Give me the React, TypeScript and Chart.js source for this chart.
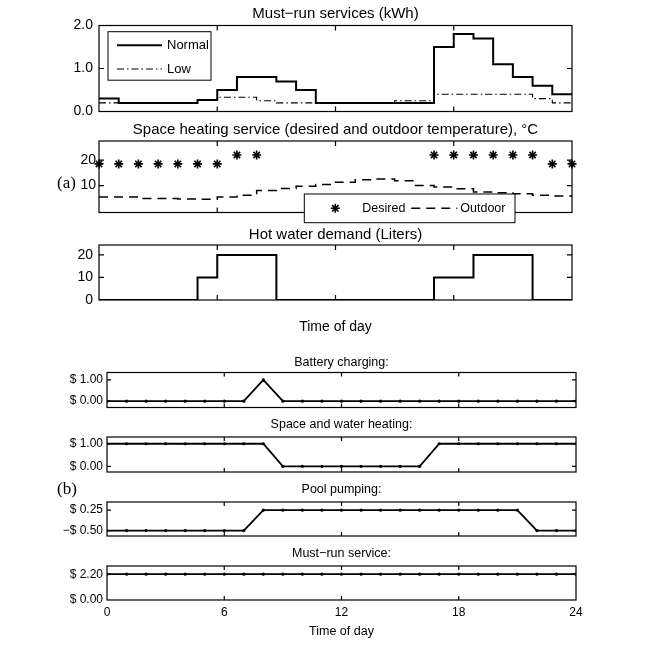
import React, { useEffect, useRef } from "react";
import { Chart, registerables } from "chart.js";

Chart.register(...registerables);
Chart.defaults.color = "#000";

const SANS = "'Liberation Sans', Arial, Helvetica, sans-serif";
const SERIF = "'Liberation Serif', 'Times New Roman', Times, serif";

// ---------------- data ----------------
const hourStarts = [0, 1, 2, 3, 4, 5, 6, 7, 8, 9, 10, 11, 12, 13, 14, 15, 16, 17, 18, 19, 20, 21, 22, 23];
const hourPoints = [0, 1, 2, 3, 4, 5, 6, 7, 8, 9, 10, 11, 12, 13, 14, 15, 16, 17, 18, 19, 20, 21, 22, 23, 24];
const xTickValues = [0, 6, 12, 18, 24];
const xTickLabels = ["0", "6", "12", "18", "24"];

// (a) must-run services, kWh per hour
const mustRunNormal = [0.3, 0.2, 0.2, 0.2, 0.2, 0.27, 0.5, 0.8, 0.8, 0.7, 0.5, 0.2, 0.2, 0.2, 0.2, 0.2, 0.2, 1.5, 1.8, 1.7, 1.1, 0.8, 0.6, 0.4];
const mustRunLow = [0.2, 0.2, 0.2, 0.2, 0.2, 0.27, 0.33, 0.33, 0.25, 0.2, 0.2, 0.2, 0.2, 0.2, 0.2, 0.25, 0.25, 0.4, 0.4, 0.4, 0.4, 0.4, 0.3, 0.2];
const mustRunTicks = [0, 1, 2];
const mustRunTickLabels = ["0.0", "1.0", "2.0"];

// (a) space heating, deg C
const desiredHours = [0, 1, 2, 3, 4, 5, 6, 7, 8, 17, 18, 19, 20, 21, 22, 23, 24];
const desiredTemp = [18.5, 18.5, 18.5, 18.5, 18.5, 18.5, 18.5, 22, 22, 22, 22, 22, 22, 22, 22, 18.5, 18.5];
const outdoorTemp = [5.5, 5.5, 4.9, 4.9, 4.7, 4.6, 5.5, 6.2, 8.0, 8.8, 9.7, 10.4, 11.3, 12.3, 12.6, 11.9, 10.0, 9.4, 8.7, 7.5, 7.2, 6.8, 6.2, 5.9];
const tempTicks = [10, 20];
const tempTickLabels = ["10", "20"];

// (a) hot water demand, liters
const hotWater = [0, 0, 0, 0, 0, 10, 20, 20, 20, 0, 0, 0, 0, 0, 0, 0, 0, 10, 10, 20, 20, 20, 0, 0];
const hotWaterTicks = [0, 10, 20];
const hotWaterTickLabels = ["0", "10", "20"];

// (b) prices per hour point
const batteryPrice = [0, 0, 0, 0, 0, 0, 0, 0, 1, 0, 0, 0, 0, 0, 0, 0, 0, 0, 0, 0, 0, 0, 0, 0, 0];
const heatingPrice = [1, 1, 1, 1, 1, 1, 1, 1, 1, 0, 0, 0, 0, 0, 0, 0, 0, 1, 1, 1, 1, 1, 1, 1, 1];
const poolPrice = [-0.5, -0.5, -0.5, -0.5, -0.5, -0.5, -0.5, -0.5, 0.25, 0.25, 0.25, 0.25, 0.25, 0.25, 0.25, 0.25, 0.25, 0.25, 0.25, 0.25, 0.25, 0.25, -0.5, -0.5, -0.5];
const mustRunPrice = [2.2, 2.2, 2.2, 2.2, 2.2, 2.2, 2.2, 2.2, 2.2, 2.2, 2.2, 2.2, 2.2, 2.2, 2.2, 2.2, 2.2, 2.2, 2.2, 2.2, 2.2, 2.2, 2.2, 2.2, 2.2];
const unitPriceTicks = [0, 1];
const unitPriceTickLabels = ["$ 0.00", "$ 1.00"];
const poolTicks = [-0.5, 0.25];
const poolTickLabels = ["\u2212$ 0.50", "$ 0.25"];
const mustRunPriceTicks = [0, 2.2];
const mustRunPriceTickLabels = ["$ 0.00", "$ 2.20"];

// ---------------- helpers ----------------
function stepSeries(values: number[]) {
  const pts = values.map((v, i) => ({ x: hourStarts[i], y: v }));
  pts.push({ x: 24, y: values[values.length - 1] });
  return pts;
}
function pointSeries(xs: number[], ys: number[]) {
  return xs.map((x, i) => ({ x, y: ys[i] }));
}

function drawStar(ctx: CanvasRenderingContext2D, x: number, y: number, r: number, lw: number) {
  ctx.save();
  ctx.setLineDash([]);
  ctx.lineWidth = lw;
  ctx.strokeStyle = "#000";
  ctx.beginPath();
  for (let k = 0; k < 4; k++) {
    const a = (k * Math.PI) / 4;
    ctx.moveTo(x - r * Math.cos(a), y - r * Math.sin(a));
    ctx.lineTo(x + r * Math.cos(a), y + r * Math.sin(a));
  }
  ctx.stroke();
  ctx.restore();
}

function drawLegend(chart: any, lg: any) {
  const { ctx, chartArea: ca } = chart;
  const bx = ca.left + lg.dx;
  const by = ca.top + lg.dy;
  ctx.save();
  ctx.setLineDash([]);
  ctx.fillStyle = "#fff";
  ctx.fillRect(bx, by, lg.w, lg.h);
  ctx.lineWidth = 1;
  ctx.strokeStyle = "#000";
  ctx.strokeRect(bx, by, lg.w, lg.h);
  ctx.font = `${lg.size}px ${SANS}`;
  ctx.textBaseline = "middle";
  ctx.textAlign = "left";
  lg.items.forEach((it: any) => {
    const ds = chart.data.datasets[it.ds];
    const y = by + it.ty;
    if (ds.showLine === false) {
      drawStar(ctx, bx + it.sx + it.sw / 2, y, ds.pointRadius, ds.pointBorderWidth);
    } else {
      ctx.beginPath();
      ctx.setLineDash(ds.borderDash || []);
      ctx.lineWidth = ds.borderWidth;
      ctx.strokeStyle = "#000";
      ctx.moveTo(bx + it.sx, y);
      ctx.lineTo(bx + it.sx + it.sw, y);
      ctx.stroke();
      ctx.setLineDash([]);
    }
    ctx.fillStyle = "#000";
    ctx.fillText(ds.label, bx + it.tx, y);
  });
  ctx.restore();
}

const framePlugin = {
  id: "frame",
  afterDatasetsDraw(chart: any, _args: any, opts: any) {
    const { ctx, chartArea: ca, scales } = chart;
    ctx.save();
    ctx.setLineDash([]);
    ctx.strokeStyle = "#000";
    ctx.lineWidth = opts.lineWidth || 1.2;
    ctx.strokeRect(ca.left, ca.top, ca.right - ca.left, ca.bottom - ca.top);
    const L = opts.tickLen || 4;
    ctx.beginPath();
    for (const t of scales.x.ticks) {
      const px = scales.x.getPixelForValue(t.value);
      if (px - ca.left < 1.5 || ca.right - px < 1.5) continue;
      ctx.moveTo(px, ca.top);
      ctx.lineTo(px, ca.top + L);
      ctx.moveTo(px, ca.bottom);
      ctx.lineTo(px, ca.bottom - L);
    }
    for (const t of scales.y.ticks) {
      const py = scales.y.getPixelForValue(t.value);
      if (py - ca.top < 1.5 || ca.bottom - py < 1.5) continue;
      ctx.moveTo(ca.left, py);
      ctx.lineTo(ca.left + L, py);
      ctx.moveTo(ca.right, py);
      ctx.lineTo(ca.right - L, py);
    }
    ctx.stroke();
    ctx.restore();
    if (opts.legend) drawLegend(chart, opts.legend);
  },
};

// ---------------- panel specs ----------------
const A = { left: 99, right: 572 };
const B = { left: 107, right: 576 };

const lineBlack = (extra: any) => ({
  borderColor: "#000",
  backgroundColor: "#000",
  pointRadius: 0,
  fill: false,
  ...extra,
});

const priceDataset = (label: string, values: number[]) =>
  lineBlack({
    label,
    data: pointSeries(hourPoints, values),
    borderWidth: 1.8,
    pointRadius: 1.6,
    pointBorderWidth: 0,
    pointBackgroundColor: "#000",
  });

const panels: any[] = [
  {
    id: "a1",
    box: { ...A, top: 25.5, bottom: 111.5 },
    title: "Must\u2212run services (kWh)",
    titleY: 14,
    titleSize: 15,
    below: 17,
    y: { min: 0, max: 2, ticks: mustRunTicks, labels: mustRunTickLabels, size: 14, pad: 6 },
    tickLen: 5,
    datasets: [
      lineBlack({ label: "Normal", data: stepSeries(mustRunNormal), stepped: "before", borderWidth: 2 }),
      lineBlack({ label: "Low", data: stepSeries(mustRunLow), stepped: "before", borderWidth: 1.1, borderDash: [7, 3, 1.5, 3] }),
    ],
    legend: {
      dx: 9, dy: 6.2, w: 103, h: 48.5, size: 13,
      items: [
        { ds: 0, sx: 9, sw: 45, tx: 59, ty: 13.5 },
        { ds: 1, sx: 9, sw: 45, tx: 59, ty: 37.3 },
      ],
    },
  },
  {
    id: "a2",
    box: { ...A, top: 141, bottom: 212.5 },
    title: "Space heating service (desired and outdoor temperature), \u00B0C",
    titleY: 130,
    titleSize: 15,
    below: 17,
    y: { min: -0.6, max: 27.5, ticks: tempTicks, labels: tempTickLabels, size: 14, pad: 3 },
    tickLen: 5,
    datasets: [
      lineBlack({
        label: "Desired",
        data: pointSeries(desiredHours, desiredTemp),
        showLine: false,
        pointStyle: "star",
        pointRadius: 4.5,
        pointBorderWidth: 1.6,
        pointBorderColor: "#000",
        clip: false,
      }),
      lineBlack({ label: "Outdoor", data: stepSeries(outdoorTemp), stepped: "before", borderWidth: 1.5, borderDash: [9, 6] }),
    ],
    legend: {
      dx: 205.3, dy: 53, w: 210.7, h: 28.7, size: 12.5,
      items: [
        { ds: 0, sx: 27, sw: 8, tx: 58, ty: 14.3 },
        { ds: 1, sx: 107, sw: 46, tx: 156, ty: 14.3 },
      ],
    },
  },
  {
    id: "a3",
    box: { ...A, top: 245, bottom: 300 },
    title: "Hot water demand (Liters)",
    titleY: 235,
    titleSize: 15,
    below: 40,
    xTitle: { text: "Time of day", y: 327.5, size: 14 },
    y: { min: 0, max: 24.4, ticks: hotWaterTicks, labels: hotWaterTickLabels, size: 14, pad: 6 },
    tickLen: 5,
    datasets: [lineBlack({ label: "Hot water", data: stepSeries(hotWater), stepped: "before", borderWidth: 2 })],
  },
  {
    id: "b1",
    box: { ...B, top: 372.5, bottom: 407.5 },
    title: "Battery charging:",
    titleY: 362.5,
    titleSize: 12.5,
    below: 13,
    y: { min: -0.3, max: 1.35, ticks: unitPriceTicks, labels: unitPriceTickLabels, size: 12, pad: 4 },
    tickLen: 4,
    datasets: [priceDataset("Battery charging", batteryPrice)],
  },
  {
    id: "b2",
    box: { ...B, top: 437, bottom: 472 },
    title: "Space and water heating:",
    titleY: 425,
    titleSize: 12.5,
    below: 13,
    y: { min: -0.25, max: 1.3, ticks: unitPriceTicks, labels: unitPriceTickLabels, size: 12, pad: 4 },
    tickLen: 4,
    datasets: [priceDataset("Space and water heating", heatingPrice)],
  },
  {
    id: "b3",
    box: { ...B, top: 502, bottom: 536 },
    title: "Pool pumping:",
    titleY: 490,
    titleSize: 12.5,
    below: 13,
    y: { min: -0.7, max: 0.55, ticks: poolTicks, labels: poolTickLabels, size: 12, pad: 4 },
    tickLen: 4,
    datasets: [priceDataset("Pool pumping", poolPrice)],
  },
  {
    id: "b4",
    box: { ...B, top: 566, bottom: 600 },
    title: "Must\u2212run service:",
    titleY: 553.5,
    titleSize: 12.5,
    below: 44,
    xLabels: { size: 12, pad: 5 },
    xTitle: { text: "Time of day", y: 632, size: 12.5 },
    y: { min: 0, max: 2.9, ticks: mustRunPriceTicks, labels: mustRunPriceTickLabels, size: 12, pad: 4 },
    tickLen: 4,
    datasets: [priceDataset("Must-run service", mustRunPrice)],
  },
];

function geometry(spec: any) {
  const wantTop = spec.titleY - 0.6 * spec.titleSize - 2;
  const canvasTop = Math.floor(wantTop);
  const padTop = spec.titleY - 0.6 * spec.titleSize - canvasTop;
  const canvasH = Math.ceil(spec.box.bottom + spec.below - canvasTop);
  const xAxisH = canvasTop + canvasH - spec.box.bottom;
  return { canvasTop, padTop, canvasH, xAxisH };
}

function buildConfig(spec: any): any {
  const g = geometry(spec);
  const titlePadBottom = spec.box.top - spec.titleY - 0.6 * spec.titleSize;
  const xTitle = spec.xTitle;
  const xTitlePadBottom = xTitle ? g.canvasTop + g.canvasH - xTitle.y - 0.6 * xTitle.size : 0;
  return {
    type: "line",
    data: { datasets: spec.datasets },
    options: {
      responsive: false,
      maintainAspectRatio: false,
      animation: false,
      events: [],
      layout: { padding: { top: g.padTop, left: 0, right: 660 - spec.box.right, bottom: 0 } },
      plugins: {
        legend: { display: false },
        tooltip: { enabled: false },
        title: {
          display: true,
          fullSize: false,
          text: spec.title,
          color: "#000",
          font: { family: SANS, size: spec.titleSize, weight: "normal", lineHeight: 1.2 },
          padding: { top: 0, bottom: titlePadBottom },
        },
        frame: { tickLen: spec.tickLen, lineWidth: 1.2, legend: spec.legend },
      },
      scales: {
        x: {
          type: "linear",
          min: 0,
          max: 24,
          grid: { display: false, drawTicks: false },
          border: { display: false },
          ticks: {
            display: !!spec.xLabels,
            autoSkip: false,
            maxRotation: 0,
            padding: spec.xLabels ? spec.xLabels.pad : 0,
            color: "#000",
            font: { family: SANS, size: spec.xLabels ? spec.xLabels.size : 12, lineHeight: 1.2 },
            callback: (v: number) => {
              const i = xTickValues.indexOf(v);
              return i >= 0 ? xTickLabels[i] : "";
            },
          },
          afterBuildTicks: (s: any) => {
            s.ticks = xTickValues.map((v) => ({ value: v }));
          },
          afterFit: (s: any) => {
            s.height = g.xAxisH;
          },
          title: xTitle
            ? {
                display: true,
                text: xTitle.text,
                color: "#000",
                font: { family: SANS, size: xTitle.size, lineHeight: 1.2 },
                padding: { top: 0, bottom: xTitlePadBottom },
              }
            : { display: false },
        },
        y: {
          type: "linear",
          min: spec.y.min,
          max: spec.y.max,
          grid: { display: false, drawTicks: false },
          border: { display: false },
          ticks: {
            autoSkip: false,
            padding: spec.y.pad,
            color: "#000",
            font: { family: SANS, size: spec.y.size, lineHeight: 1.2 },
            callback: (v: number) => {
              const i = spec.y.ticks.findIndex((t: number) => Math.abs(t - v) < 1e-9);
              return i >= 0 ? spec.y.labels[i] : "";
            },
          },
          afterBuildTicks: (s: any) => {
            s.ticks = spec.y.ticks.map((v: number) => ({ value: v }));
          },
          afterFit: (s: any) => {
            s.width = spec.box.left;
          },
        },
      },
    },
    plugins: [framePlugin],
  };
}

function Panel({ spec }: { spec: any }) {
  const ref = useRef<HTMLCanvasElement>(null);
  const g = geometry(spec);
  useEffect(() => {
    if (!ref.current) return;
    const chart = new Chart(ref.current, buildConfig(spec));
    return () => chart.destroy();
  }, []);
  return (
    <canvas
      ref={ref}
      width={660}
      height={g.canvasH}
      style={{ position: "absolute", left: 0, top: g.canvasTop, width: 660, height: g.canvasH }}
    />
  );
}

export default function App() {
  const labelStyle: React.CSSProperties = {
    position: "absolute",
    fontFamily: SERIF,
    fontSize: 17,
    lineHeight: "20px",
    color: "#000",
    whiteSpace: "nowrap",
  };
  return (
    <div
      style={{
        position: "absolute",
        left: 0,
        top: 0,
        width: 660,
        height: 646,
        background: "#fff",
        overflow: "hidden",
      }}
    >
      {panels.map((p) => (
        <Panel key={p.id} spec={p} />
      ))}
      <span style={{ ...labelStyle, left: 57, top: 173 }}>(a)</span>
      <span style={{ ...labelStyle, left: 57, top: 479 }}>(b)</span>
    </div>
  );
}
